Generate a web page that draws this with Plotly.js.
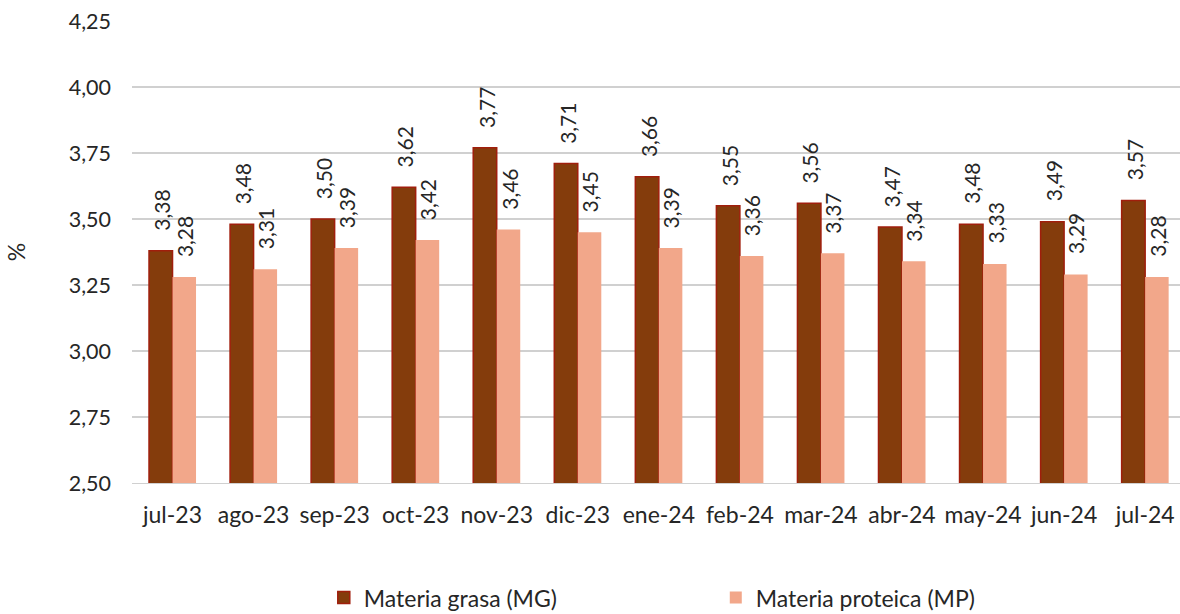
<!DOCTYPE html>
<html>
<head>
<meta charset="utf-8">
<script src="https://cdn.plot.ly/plotly-3.0.1.min.js"></script>
<style>html,body{margin:0;padding:0;overflow:hidden;background:#fff}#chart{width:1180px;height:614px}</style>
</head>
<body>
<div id="chart"></div>
<script>
const categories = ['jul-23','ago-23','sep-23','oct-23','nov-23','dic-23','ene-24','feb-24','mar-24','abr-24','may-24','jun-24','jul-24'];
const grasa = [3.38,3.48,3.50,3.62,3.77,3.71,3.66,3.55,3.56,3.47,3.48,3.49,3.57];
const proteica = [3.28,3.31,3.39,3.42,3.46,3.45,3.39,3.36,3.37,3.34,3.33,3.29,3.28];
const yTicks = [2.50,2.75,3.00,3.25,3.50,3.75,4.00,4.25];

const fmt = v => v.toFixed(2).replace('.', ',');
const FONT = 'Lato, "Open Sans", sans-serif';

const traces = [
  {type:'bar', name:'Materia grasa (MG)', x:categories, y:grasa,
   marker:{color:'#843C0C', line:{color:'#A01E0C', width:1.5}}, hoverinfo:'none'},
  {type:'bar', name:'Materia proteica (MP)', x:categories, y:proteica,
   marker:{color:'#F2A78A', line:{color:'#F2A78A', width:0}}, hoverinfo:'none'}
];

const annotations = [];
categories.forEach((c,i)=>{
  annotations.push({x:c, y:grasa[i], xref:'x', yref:'y', text:fmt(grasa[i]), showarrow:false,
    textangle:-90, xanchor:'center', yanchor:'bottom', xshift:-11, yshift:18,
    font:{family:FONT, size:21, color:'#262626'}});
  annotations.push({x:c, y:proteica[i], xref:'x', yref:'y', text:fmt(proteica[i]), showarrow:false,
    textangle:-90, xanchor:'center', yanchor:'bottom', xshift:12, yshift:18,
    font:{family:FONT, size:21, color:'#262626'}});
});

const layout = {
  width:1180, height:614,
  margin:{l:132, r:0, t:21, b:131, autoexpand:false},
  paper_bgcolor:'#fff', plot_bgcolor:'#fff',
  separators:',.',
  font:{family:FONT, size:21, color:'#262626'},
  barmode:'group', bargap:0.42, bargroupgap:0,
  showlegend:true,
  legend:{orientation:'h', x:0.183, xanchor:'left', y:-0.248, yanchor:'middle',
    entrywidth:347, entrywidthmode:'pixels', font:{family:FONT, size:23, color:'#262626'},
    traceorder:'normal', itemwidth:30, tracegroupgap:0},
  xaxis:{type:'category', range:[-0.5, 12.43], showgrid:false, showline:true,
    linecolor:'#D0D0D0', linewidth:1.2, ticks:'', ticklabelstandoff:11,
    tickfont:{family:FONT, size:23, color:'#262626'}, fixedrange:true},
  yaxis:{range:[2.5,4.25], tickmode:'array', tickvals:yTicks, tickformat:'.2f',
    showgrid:true, gridcolor:'#D0D0D0', gridwidth:1.2, zeroline:false, showline:false,
    ticks:'', ticklabelstandoff:20,
    tickfont:{family:FONT, size:21.5, color:'#262626'},
    title:{text:'%', font:{family:FONT, size:23, color:'#262626'}, standoff:36},
    fixedrange:true},
  annotations:annotations
};

Plotly.newPlot('chart', traces, layout, {displayModeBar:false, staticPlot:true});
</script>
</body>
</html>
